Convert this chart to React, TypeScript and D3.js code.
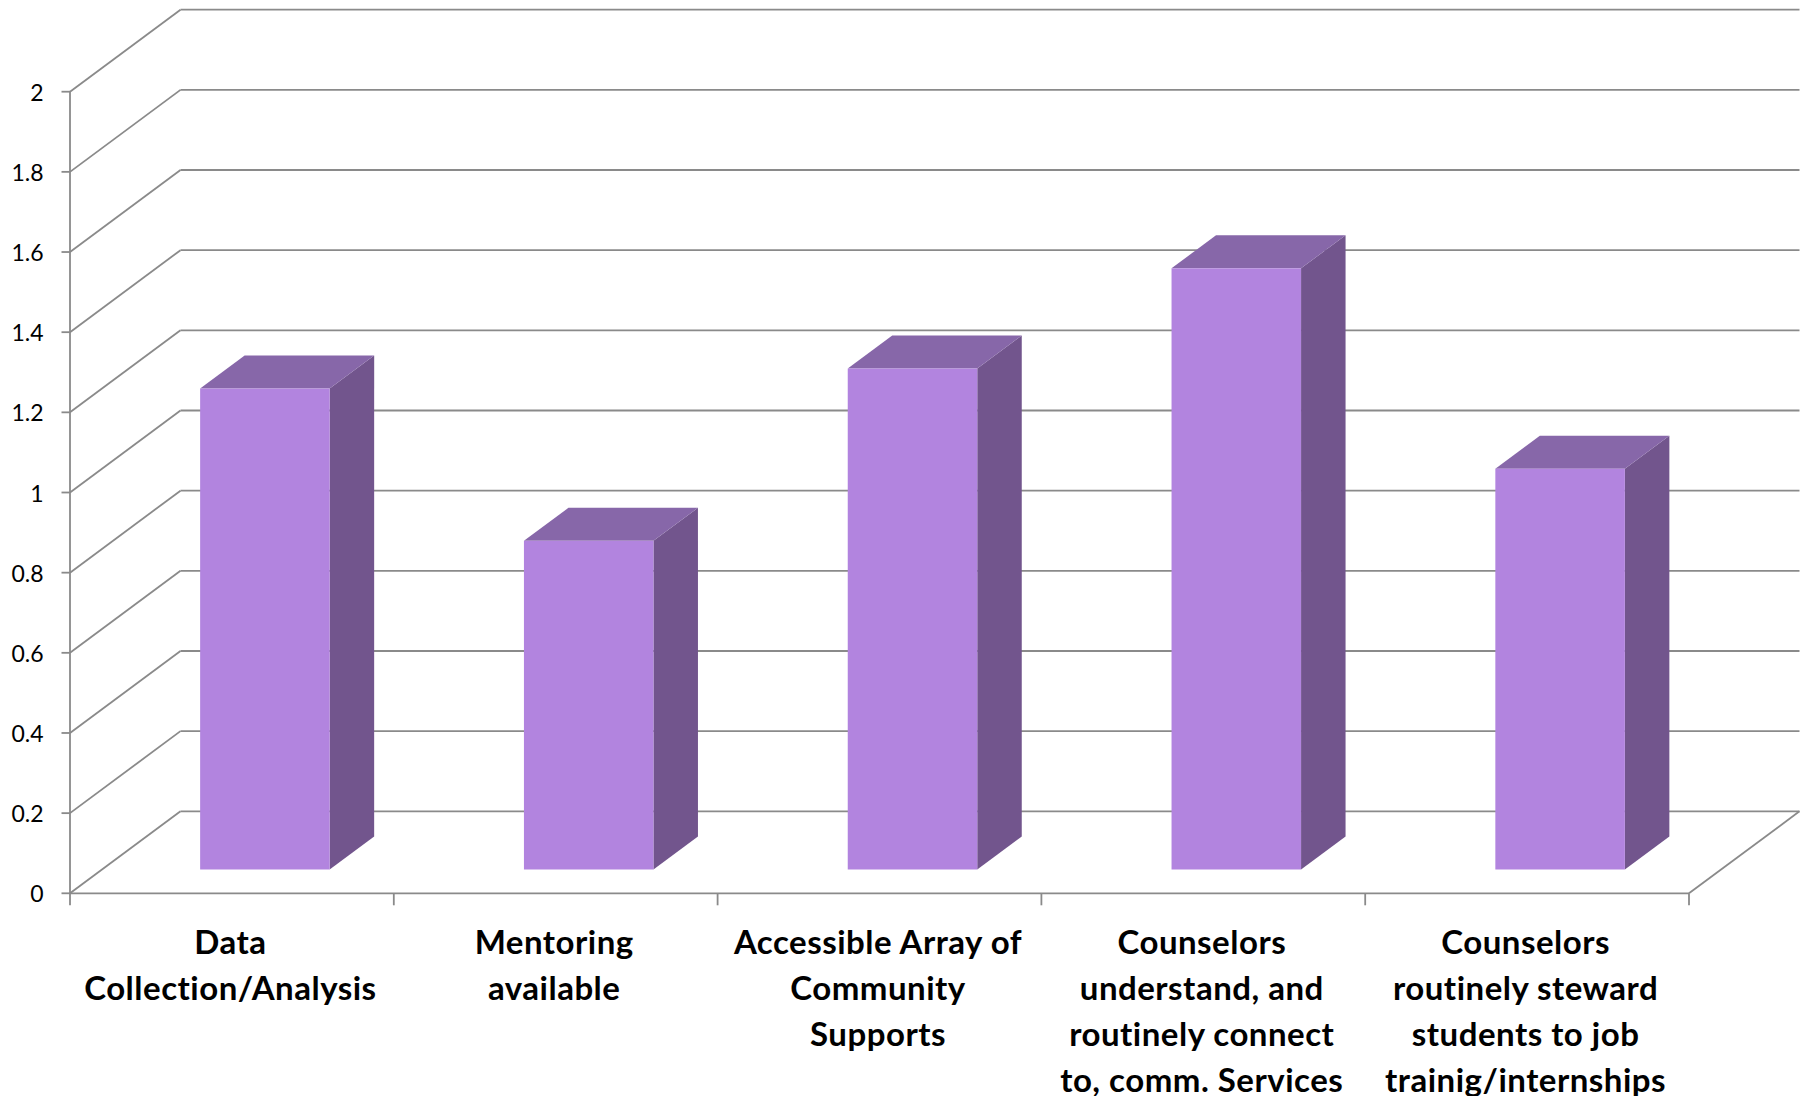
import React from 'react';
import * as d3 from 'd3';

// ---- data ----
const categories = [
  'Data Collection/Analysis',
  'Mentoring available',
  'Accessible Array of Community Supports',
  'Counselors understand, and routinely connect to, comm. Services',
  'Counselors routinely steward students to job trainig/internships',
];
const categoryLines = [
  ['Data', 'Collection/Analysis'],
  ['Mentoring', 'available'],
  ['Accessible Array of', 'Community', 'Supports'],
  ['Counselors', 'understand, and', 'routinely connect', 'to, comm. Services'],
  ['Counselors', 'routinely steward', 'students to job', 'trainig/internships'],
];
const values = [1.2, 0.82, 1.25, 1.5, 1.0];
const yTicks = [0, 0.2, 0.4, 0.6, 0.8, 1, 1.2, 1.4, 1.6, 1.8, 2];
const yTickLabels = ['0', '0.2', '0.4', '0.6', '0.8', '1', '1.2', '1.4', '1.6', '1.8', '2'];

// ---- layout ----
const W = 1814;
const H = 1096;
const X0 = 70;
const X1 = 1689;
const Y0 = 893.3;
const Y1 = 91.7;
const DEPTH_X = 110.5;
const DEPTH_Y = 82;
const BAR_SHIFT_X = 33;
const BAR_SHIFT_Y = 23.8;
const BAR_DEPTH_X = 44.5;
const BAR_DEPTH_Y = 33;
const GRID = '#8a8a8a';
const FRONT = '#b284df';
const TOP = '#8767a9';
const SIDE = '#72558d';

export default function App() {
  const x = d3.scaleBand<string>().domain(categories).range([X0, X1]).paddingInner(0).paddingOuter(0);
  const y = d3.scaleLinear().domain([0, 2]).range([Y0, Y1]);
  const bw = x.bandwidth();
  const tickXs = [...categories.map((c) => x(c) as number), X1];

  const poly = (pts: [number, number][]) => pts.map((p) => p.join(',')).join(' ');

  return (
    <svg
      width={W}
      height={H}
      style={{ position: 'absolute', left: 0, top: 0, display: 'block', background: '#fff' }}
    >
      {/* back wall gridlines and side wall diagonals */}
      <g stroke={GRID} strokeWidth={1.8} fill="none">
        {yTicks.map((v) => {
          const yy = y(v);
          return (
            <g key={'g' + v}>
              <line x1={X0} y1={yy} x2={X0 + DEPTH_X} y2={yy - DEPTH_Y} />
              <line x1={X0 + DEPTH_X} y1={yy - DEPTH_Y} x2={X1 + DEPTH_X} y2={yy - DEPTH_Y} />
            </g>
          );
        })}
        {/* floor right edge */}
        <line x1={X1} y1={Y0} x2={X1 + DEPTH_X} y2={Y0 - DEPTH_Y} />
        {/* y axis */}
        <line x1={X0} y1={Y1} x2={X0} y2={Y0} />
        {yTicks.map((v) => (
          <line key={'t' + v} x1={X0 - 8.5} y1={y(v)} x2={X0} y2={y(v)} />
        ))}
        {/* x axis */}
        <line x1={X0} y1={Y0} x2={X1} y2={Y0} />
        {tickXs.map((tx, i) => (
          <line key={'xt' + i} x1={tx} y1={Y0} x2={tx} y2={Y0 + 12} />
        ))}
      </g>

      {/* y tick labels */}
      <g fontFamily="Lato, 'Open Sans', sans-serif" fontSize={23} fill="#000" textAnchor="end">
        {yTicks.map((v, i) => (
          <text key={'yl' + v} x={43.5} y={y(v) + 9}>
            {yTickLabels[i]}
          </text>
        ))}
      </g>

      {/* bars */}
      {categories.map((c, i) => {
        const fx = (x(c) as number) + bw * 0.3 + BAR_SHIFT_X;
        const fw = bw * 0.4;
        const yb = y(0) - BAR_SHIFT_Y;
        const yt = y(values[i]) - BAR_SHIFT_Y;
        return (
          <g key={'b' + i}>
            <polygon
              points={poly([
                [fx + fw, yt],
                [fx + fw + BAR_DEPTH_X, yt - BAR_DEPTH_Y],
                [fx + fw + BAR_DEPTH_X, yb - BAR_DEPTH_Y],
                [fx + fw, yb],
              ])}
              fill={SIDE}
            />
            <polygon
              points={poly([
                [fx, yt],
                [fx + fw, yt],
                [fx + fw + BAR_DEPTH_X, yt - BAR_DEPTH_Y],
                [fx + BAR_DEPTH_X, yt - BAR_DEPTH_Y],
              ])}
              fill={TOP}
            />
            <rect x={fx} y={yt} width={fw} height={yb - yt} fill={FRONT} />
          </g>
        );
      })}

      {/* category labels */}
      <g
        fontFamily="Lato, 'Open Sans', sans-serif"
        fontSize={33}
        fontWeight={700}
        letterSpacing={0.5}
        fill="#000"
        textAnchor="middle"
      >
        {categories.map((c, i) => {
          const cx = (x(c) as number) + bw / 2 - 1.5;
          return (
            <text key={'cl' + i} x={cx} y={954}>
              {categoryLines[i].map((line, j) => (
                <tspan key={j} x={cx} y={954 + j * 46}>
                  {line}
                </tspan>
              ))}
            </text>
          );
        })}
      </g>
    </svg>
  );
}
